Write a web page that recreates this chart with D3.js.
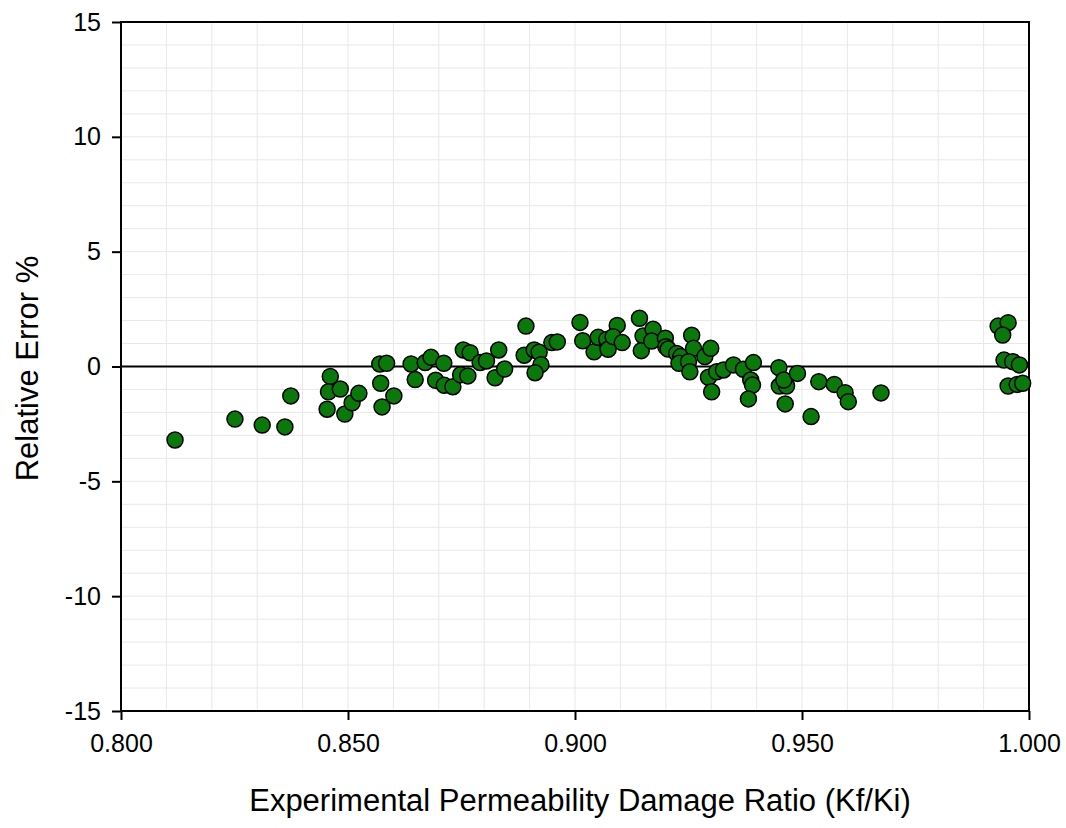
<!DOCTYPE html>
<html>
<head>
<meta charset="utf-8">
<script src="https://cdn.jsdelivr.net/npm/d3@7"></script>
<style>
  body { margin: 0; background: #fff; }
  text { font-family: "Liberation Sans", Arial, sans-serif; fill: #000; }
</style>
</head>
<body>
<svg id="chart" width="1066" height="828"></svg>
<script>
// Data
const ratio = [
    0.8119, 0.8251, 0.8311, 0.8361, 0.8374,
    0.8461, 0.8457, 0.8483, 0.8454, 0.8493, 0.8509, 0.8524,
    0.8570, 0.8585, 0.8572, 0.8601, 0.8575,
    0.8639, 0.8648, 0.8670, 0.8683, 0.8711, 0.8693, 0.8712,
    0.8731, 0.8748, 0.8764, 0.8754, 0.8769, 0.8791, 0.8805, 0.8832, 0.8824, 0.8845,
    0.8892, 0.8888, 0.8910, 0.8921, 0.8925, 0.8912, 0.8949, 0.8961,
    0.9011, 0.9017, 0.9042, 0.9051, 0.9070, 0.9073, 0.9093, 0.9084, 0.9104,
    0.9142, 0.9150, 0.9146, 0.9172, 0.9169, 0.9199, 0.9200, 0.9205,
    0.9224, 0.9233, 0.9229, 0.9257, 0.9261, 0.9250, 0.9253,
    0.9286, 0.9299, 0.9294, 0.9301, 0.9312, 0.9327,
    0.9349, 0.9371, 0.9393, 0.9387, 0.9391, 0.9382,
    0.9449, 0.9450, 0.9466, 0.9460, 0.9463, 0.9490,
    0.9520, 0.9537, 0.9571, 0.9595, 0.9602, 0.9674,
    0.9932, 0.9954, 0.9942, 0.9945, 0.9964, 0.9979, 0.9954, 0.9974, 0.9986
];
const relError = [
    -3.20, -2.29, -2.55, -2.63, -1.28,
    -0.43, -1.10, -0.98, -1.86, -2.07, -1.58, -1.17,
    0.11, 0.14, -0.73, -1.28, -1.76,
    0.11, -0.57, 0.17, 0.40, 0.14, -0.60, -0.82,
    -0.88, -0.36, -0.41, 0.72, 0.60, 0.17, 0.24, 0.72, -0.49, -0.11,
    1.76, 0.49, 0.72, 0.62, 0.08, -0.27, 1.04, 1.07,
    1.92, 1.12, 0.64, 1.27, 1.18, 0.75, 1.79, 1.30, 1.04,
    2.10, 1.33, 0.69, 1.62, 1.11, 1.23, 0.86, 0.76,
    0.57, 0.43, 0.14, 1.36, 0.79, 0.21, -0.23,
    0.43, 0.79, -0.47, -1.10, -0.23, -0.15,
    0.07, -0.12, 0.17, -0.59, -0.81, -1.41,
    -0.05, -0.85, -0.85, -0.59, -1.63, -0.30,
    -2.18, -0.66, -0.78, -1.14, -1.53, -1.15,
    1.76, 1.91, 1.37, 0.28, 0.21, 0.07, -0.85, -0.78, -0.73
];
const xTicks = [0.80, 0.85, 0.90, 0.95, 1.00];
const yTicks = [-15, -10, -5, 0, 5, 10, 15];

const margin = {top: 22, right: 37, bottom: 117, left: 121};
const width = 1066 - margin.left - margin.right;
const height = 828 - margin.top - margin.bottom;

const svg = d3.select('#chart');
const g = svg.append('g').attr('transform', `translate(${margin.left},${margin.top})`);

const x = d3.scaleLinear().domain([0.8, 1.0]).range([0, width]);
const y = d3.scaleLinear().domain([-15, 15]).range([height, 0]);

// light grid
g.append('g')
    .selectAll('line')
    .data(d3.range(1, 20).map(i => 0.8 + i * 0.01))
    .join('line')
    .attr('x1', d => x(d)).attr('x2', d => x(d))
    .attr('y1', 0).attr('y2', height)
    .attr('stroke', '#e8e8e8').attr('stroke-width', 1);

g.append('g')
    .selectAll('line')
    .data(d3.range(-14, 15))
    .join('line')
    .attr('x1', 0).attr('x2', width)
    .attr('y1', d => y(d)).attr('y2', d => y(d))
    .attr('stroke', '#e8e8e8').attr('stroke-width', 1);

// zero line
g.append('line')
    .attr('x1', 0).attr('x2', width)
    .attr('y1', y(0)).attr('y2', y(0))
    .attr('stroke', '#000').attr('stroke-width', 2);

// axes
const xAxis = g.append('g')
    .attr('transform', `translate(0,${height})`)
    .call(d3.axisBottom(x).tickValues(xTicks).tickFormat(d3.format('.3f')).tickSize(9).tickPadding(14));
const yAxis = g.append('g')
    .call(d3.axisLeft(y).tickValues(yTicks).tickFormat(d => String(d)).tickSize(9).tickPadding(11));

[xAxis, yAxis].forEach(a => {
    a.select('.domain').remove();
    a.selectAll('line').attr('stroke', '#000').attr('stroke-width', 2);
    a.selectAll('text').style('font-size', '25px').attr('fill', '#000');
});

// frame
g.append('rect')
    .attr('x', 0).attr('y', 0)
    .attr('width', width).attr('height', height)
    .attr('fill', 'none').attr('stroke', '#000').attr('stroke-width', 2);

// points
g.append('g')
    .selectAll('circle')
    .data(ratio.map((r, i) => ({r, e: relError[i]})))
    .join('circle')
    .attr('cx', d => x(d.r))
    .attr('cy', d => y(d.e))
    .attr('r', 8)
    .attr('fill', '#0a780a')
    .attr('stroke', '#000')
    .attr('stroke-width', 1.5);

// axis titles
svg.append('text')
    .attr('x', margin.left + width / 2 + 5)
    .attr('y', 811)
    .attr('text-anchor', 'middle')
    .style('font-size', '31px')
    .text('Experimental Permeability Damage Ratio (Kf/Ki)');

svg.append('text')
    .attr('transform', `translate(38,${margin.top + height / 2 + 2}) rotate(-90)`)
    .attr('text-anchor', 'middle')
    .style('font-size', '31px')
    .text('Relative Error %');
</script>
</body>
</html>
